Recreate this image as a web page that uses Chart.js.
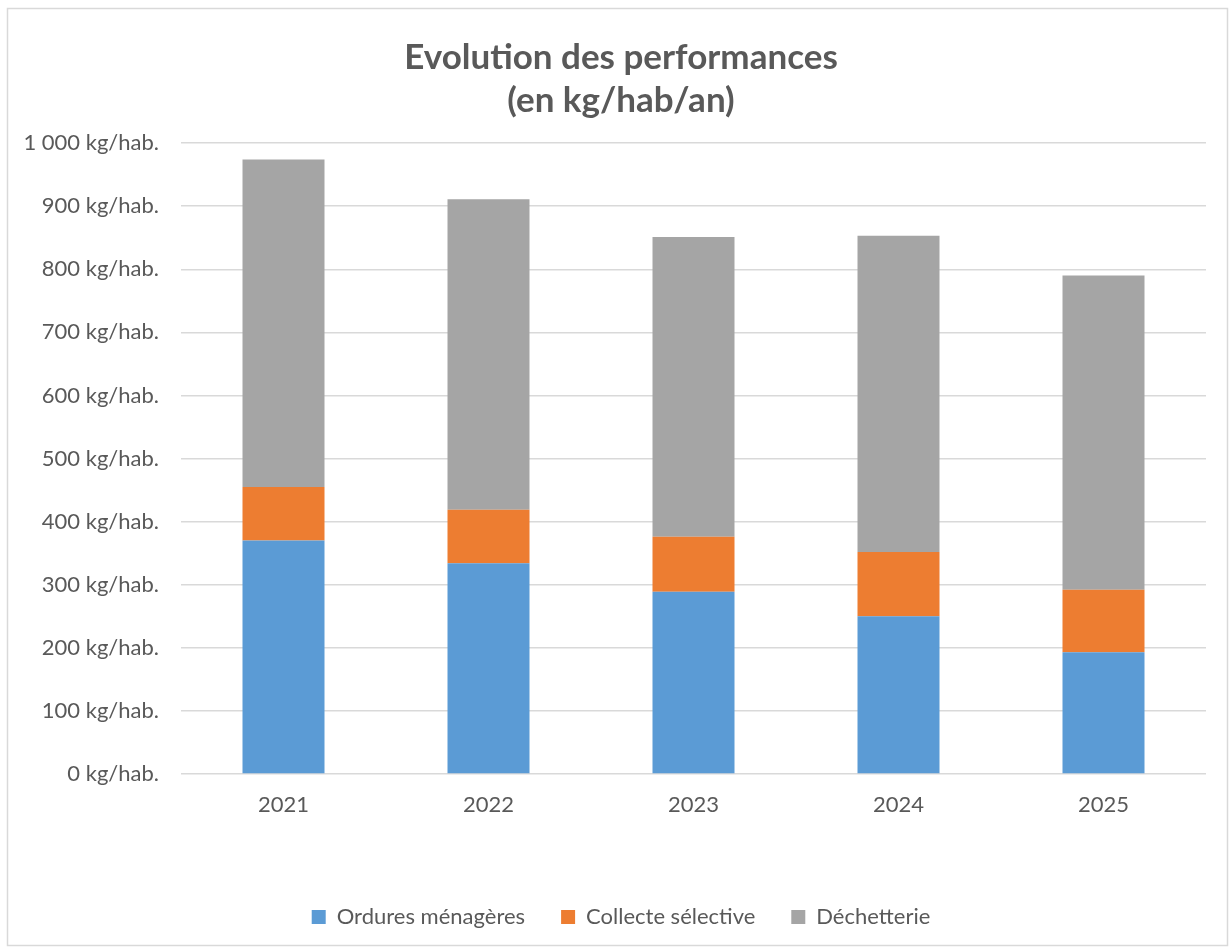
<!DOCTYPE html>
<html>
<head>
<meta charset="utf-8">
<script src="https://cdn.jsdelivr.net/npm/chart.js@4"></script>
<style>
  html, body { margin: 0; padding: 0; background: #fff; }
  #wrap { position: relative; width: 1230px; height: 949px; }
</style>
</head>
<body>
<div id="wrap"><canvas id="chart" width="1230" height="949"></canvas></div>
<script>
const years = ['2021', '2022', '2023', '2024', '2025'];
const ordures = [370, 334, 289, 250, 193];
const collecte = [85, 85, 87, 102, 99];
const dechetterie = [519, 492, 475, 501, 498];
const titleLines = ['Evolution des performances', '(en kg/hab/an)'];

const FONT = 'Lato, "Open Sans", sans-serif';
const TEXT = '#595959';

// white background + thin grey frame like the Excel chart area
const frame = {
  id: 'frame',
  beforeDraw(chart) {
    const ctx = chart.ctx;
    ctx.save();
    ctx.fillStyle = '#fff';
    ctx.fillRect(0, 0, chart.width, chart.height);
    ctx.strokeStyle = '#d9d9d9';
    ctx.lineWidth = 1.5;
    ctx.strokeRect(7.5, 8.5, chart.width - 10, chart.height - 12);
    ctx.restore();
  }
};

function fmt(v) {
  return String(v).replace(/\B(?=(\d{3})+(?!\d))/g, ' ') + ' kg/hab.';
}

new Chart(document.getElementById('chart'), {
  type: 'bar',
  data: {
    labels: years,
    datasets: [
      { label: 'Ordures ménagères', data: ordures, backgroundColor: '#5B9BD5' },
      { label: 'Collecte sélective', data: collecte, backgroundColor: '#ED7D31' },
      { label: 'Déchetterie', data: dechetterie, backgroundColor: '#A5A5A5' }
    ]
  },
  options: {
    responsive: false,
    animation: false,
    barPercentage: 0.4,
    categoryPercentage: 1,
    layout: { padding: { left: 14, right: 2, top: 28, bottom: 11 } },
    plugins: {
      title: {
        display: true,
        text: titleLines,
        color: TEXT,
        font: { family: FONT, size: 35, weight: 'bold', lineHeight: 1.23 },
        padding: { top: 8, bottom: 21 }
      },
      legend: {
        position: 'bottom',
        labels: {
          color: TEXT,
          font: { family: FONT, size: 22 },
          boxWidth: 14,
          boxHeight: 14,
          padding: 36
        }
      },
      tooltip: { enabled: false }
    },
    scales: {
      x: {
        stacked: true,
        grid: { display: false },
        border: { display: false },
        ticks: { color: TEXT, font: { family: FONT, size: 22 }, padding: 10 },
        afterFit(scale) { scale.height = 96; }
      },
      y: {
        stacked: true,
        min: 0,
        max: 1000,
        grid: { color: '#d9d9d9', lineWidth: 1.5, drawTicks: false },
        border: { display: false },
        ticks: {
          stepSize: 100,
          color: TEXT,
          font: { family: FONT, size: 22 },
          padding: 22,
          callback: v => fmt(v)
        },
        afterFit(scale) { scale.width = 167; }
      },
      // empty right-hand spacer so the title and legend sit centred as in the original
      spacer: {
        type: 'linear',
        position: 'right',
        grid: { display: false },
        border: { display: false },
        ticks: { display: false },
        afterFit(scale) { scale.width = 22; }
      }
    }
  },
  plugins: [frame]
});
</script>
</body>
</html>
